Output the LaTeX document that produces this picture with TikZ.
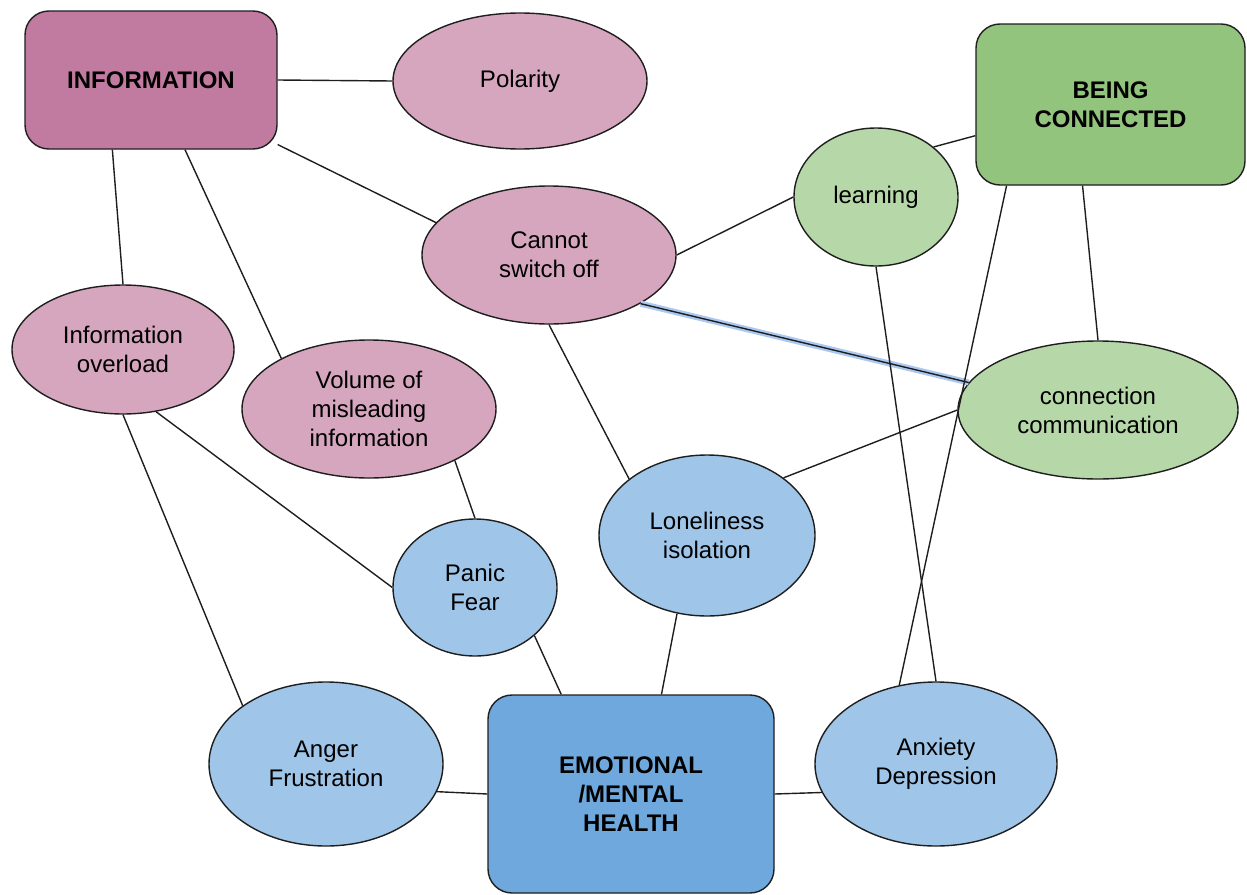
\documentclass[tikz,border=0pt]{standalone}
\usepackage{fontspec}
\setmainfont{Liberation Sans}
\usepackage{xcolor}
\usepackage{tikz}
\usetikzlibrary{shapes.geometric}
\definecolor{infohub}{HTML}{C27BA0}
\definecolor{infoidea}{HTML}{D5A6BD}
\definecolor{connhub}{HTML}{93C47D}
\definecolor{connidea}{HTML}{B6D7A8}
\definecolor{mindhub}{HTML}{6FA8DC}
\definecolor{mindidea}{HTML}{9FC5E8}
\definecolor{outline}{RGB}{30, 30, 30}
\definecolor{glow}{RGB}{170, 200, 240}

\begin{document}
\begin{tikzpicture}[
    x=0.5pt, y=-0.5pt,
    hub/.style={rectangle, draw=outline, line width=0.7pt, rounded corners=12pt,
                inner sep=0pt, align=center, font=\fontsize{12}{14.5}\selectfont\bfseries},
    idea/.style={ellipse, draw=outline, line width=0.7pt, inner sep=0pt,
                 align=center, font=\fontsize{12}{14.5}\selectfont},
    link/.style={line width=0.7pt, outline}
]
\useasboundingbox (0,0) rectangle (1247,894);

% Hubs
\node[hub, fill=infohub, minimum width=126pt, minimum height=69pt] (info) at (151,80) {INFORMATION};
\node[hub, fill=connhub, minimum width=134.5pt, minimum height=80.5pt] (being) at (1110.5,104.5) {BEING\\CONNECTED};
\node[hub, fill=mindhub, minimum width=143pt, minimum height=99pt] (emh) at (631,794) {EMOTIONAL\\/MENTAL\\HEALTH};

% Information ideas
\node[idea, fill=infoidea, minimum width=127pt, minimum height=68pt] (pol) at (520,81) {Polarity};
\node[idea, fill=infoidea, minimum width=127pt, minimum height=69pt] (cso) at (549,255) {Cannot\\switch off};
\node[idea, fill=infoidea, minimum width=111pt, minimum height=64.5pt] (ovl) at (123,349.5) {Information\\overload};
\node[idea, fill=infoidea, minimum width=127pt, minimum height=69pt] (vol) at (369,409) {Volume of\\misleading\\information};

% Connection ideas
\node[idea, fill=connidea, minimum width=82pt, minimum height=69pt] (learn) at (876,197) {learning};
\node[idea, fill=connidea, minimum width=140pt, minimum height=69pt] (comm) at (1098,410) {connection\\communication};

% Emotional ideas
\node[idea, fill=mindidea, minimum width=82pt, minimum height=68.5pt] (panic) at (475,587.5) {Panic\\Fear};
\node[idea, fill=mindidea, minimum width=108pt, minimum height=80.5pt] (lone) at (707,535.5) {Loneliness\\isolation};
\node[idea, fill=mindidea, minimum width=117pt, minimum height=82pt] (anger) at (326,764) {Anger\\Frustration};
\node[idea, fill=mindidea, minimum width=121pt, minimum height=82pt] (anx) at (936,764) {Anxiety\\Depression};

% Links
\draw[link] (info.east) -- (pol.west);
\draw[link] (info.-27) -- (cso.164);
\draw[link] (info.-119) -- (ovl.north);
\draw[link] (info.-64) -- (vol.150);
\draw[link] (cso.east) -- (learn.west);
\draw[link] (learn.41) -- (being.-167);
\draw[link, preaction={draw=glow, line width=3pt}] (cso.-28) -- (comm.168);
\draw[link] (being.-109) -- (comm.north);
\draw[link] (being.-142) -- (anx.115);
\draw[link] (learn.south) -- (anx.north);
\draw[link] (cso.south) -- (lone.144);
\draw[link] (comm.west) -- (lone.37);
\draw[link] (ovl.-62) -- (panic.west);
\draw[link] (ovl.south) -- (anger.145);
\draw[link] (vol.-31) -- (panic.north);
\draw[link] (panic.-39) -- (emh.125);
\draw[link] (lone.-111) -- (emh.73);
\draw[link] (anger.-14) -- (emh.west);
\draw[link] (emh.east) -- (anx.-166);

\end{tikzpicture}
\end{document}
